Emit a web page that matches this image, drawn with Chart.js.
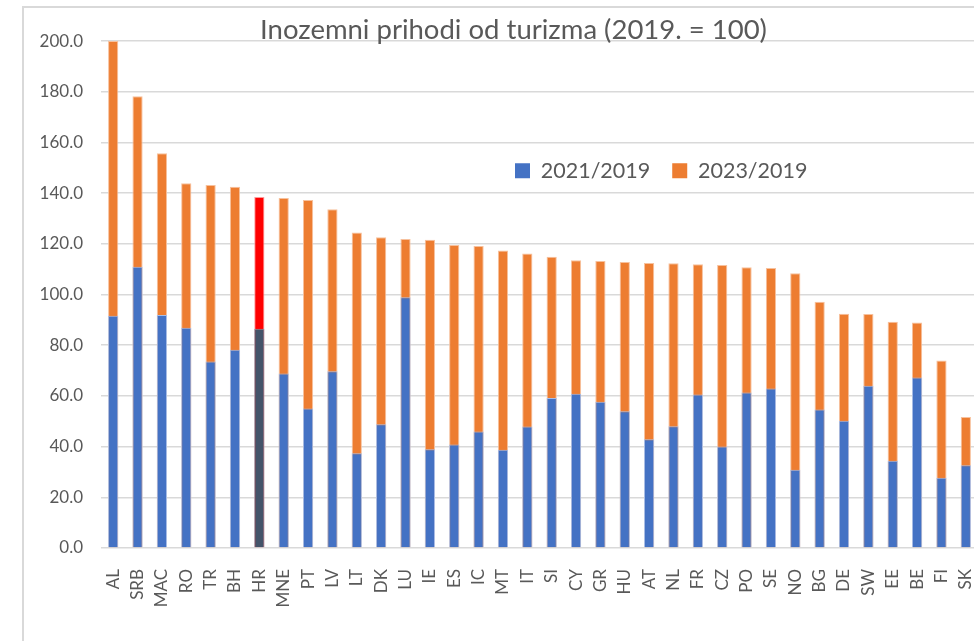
<!DOCTYPE html>
<html>
<head>
<meta charset="utf-8">
<script src="https://cdn.jsdelivr.net/npm/chart.js@4/dist/chart.umd.min.js"></script>
<style>
  html, body { margin: 0; padding: 0; background: #ffffff; overflow: hidden; width: 974px; height: 641px; }
  #frame { position: absolute; left: 22px; top: 6px; width: 1100px; height: 800px; border: 2px solid #d9d9d9; box-sizing: border-box; z-index: 0; }
  #c { position: absolute; left: 0; top: 0; z-index: 1; }
</style>
</head>
<body>
<div id="frame"></div>
<canvas id="c" width="1000" height="641"></canvas>
<script>
// ---- data ----
const categories = ["AL","SRB","MAC","RO","TR","BH","HR","MNE","PT","LV","LT","DK","LU","IE","ES","IC","MT","IT","SI","CY","GR","HU","AT","NL","FR","CZ","PO","SE","NO","BG","DE","SW","EE","BE","FI","SK"];
const values2021 = [91.6,111.0,91.9,86.9,73.6,78.2,86.5,68.8,55.0,69.7,37.4,48.8,98.9,39.0,40.8,46.0,38.8,47.9,59.2,60.9,57.7,53.9,42.9,48.0,60.6,40.0,61.3,62.9,30.9,54.6,50.2,64.0,34.4,67.3,27.7,32.6];
const values2023 = [200.0,178.2,155.7,143.9,143.2,142.5,138.5,138.1,137.3,133.6,124.5,122.6,121.9,121.6,119.5,119.1,117.4,116.2,114.9,113.5,113.2,112.8,112.4,112.3,111.9,111.6,110.8,110.5,108.4,97.1,92.4,92.3,89.3,89.0,74.0,51.7];
const seriesNames = ["2021/2019", "2023/2019"];
const yTicks = [0, 20, 40, 60, 80, 100, 120, 140, 160, 180, 200];
const chartTitle = "Inozemni prihodi od turizma (2019. = 100)";
const highlighted = "HR";

// ---- styling ----
const BLUE = "#4472C4", ORANGE = "#ED7D31", HL_BLUE = "#44546A", HL_ORANGE = "#FF0000";
const TEXT = "#595959", GRID = "#d9d9d9";
const FONT = "Lato, 'Open Sans', sans-serif";

const blueColors = categories.map(c => c === highlighted ? HL_BLUE : BLUE);
const orangeColors = categories.map(c => c === highlighted ? HL_ORANGE : ORANGE);
const blueBorders = categories.map(c => c === highlighted ? "#8a96a8" : "#a9bde6");
const orangeBorders = categories.map(c => c === highlighted ? "#ff9a9a" : "#f7c19d");

const LEGEND_BOX_X = 515, LEGEND_BOX_TOP = 163.3;
const TITLE_SHIFT = 9.5;

const layoutTweaks = {
  id: 'layoutTweaks',
  beforeLayout(chart) {
    const lg = chart.legend;
    if (lg && !lg._horizPatched) {
      lg.isHorizontal = () => true;
      lg._horizPatched = true;
    }
  },
  afterLayout(chart) {
    const lg = chart.legend;
    if (lg) {
      const pad = lg.options.labels.padding;
      const fontSize = lg.options.labels.font.size;
      const boxH = lg.options.labels.boxHeight;
      const targetTop = LEGEND_BOX_TOP - (fontSize - boxH) / 2 - pad;
      const targetLeft = LEGEND_BOX_X - pad;
      const w = lg.width, h = lg.height;
      lg.left = targetLeft; lg.right = targetLeft + w;
      lg.top = targetTop; lg.bottom = targetTop + h;
    }
    const tb = chart.titleBlock;
    if (tb) { tb.left += TITLE_SHIFT; tb.right += TITLE_SHIFT; }
  }
};

new Chart(document.getElementById('c'), {
  type: 'bar',
  data: {
    labels: categories,
    datasets: [
      { label: seriesNames[0], data: values2021, backgroundColor: blueColors, borderColor: blueBorders, borderWidth: 1, order: 0 },
      { label: seriesNames[1], data: values2023, backgroundColor: orangeColors, borderColor: orangeBorders, borderWidth: 1, order: 1 }
    ]
  },
  options: {
    responsive: false,
    animation: false,
    devicePixelRatio: 1,
    layout: { padding: { left: 30, right: 22, top: 0, bottom: 0 } },
    datasets: { bar: { barPercentage: 0.42, categoryPercentage: 1.0 } },
    plugins: {
      title: {
        display: true,
        text: chartTitle,
        color: TEXT,
        font: { family: FONT, size: 27.5, weight: 'normal', lineHeight: 0.75 },
        padding: { top: 20, bottom: 0.4 }
      },
      legend: {
        position: 'chartArea',
        align: 'start',
        labels: {
          color: TEXT,
          font: { family: FONT, size: 21.5 },
          boxWidth: 15,
          boxHeight: 15,
          padding: 22,
          generateLabels(chart) {
            return chart.data.datasets.map((ds, i) => ({
              text: ds.label,
              fillStyle: i === 0 ? BLUE : ORANGE,
              strokeStyle: i === 0 ? BLUE : ORANGE,
              lineWidth: 0,
              fontColor: TEXT,
              hidden: false,
              datasetIndex: i
            }));
          }
        }
      },
      tooltip: { enabled: false }
    },
    scales: {
      x: {
        stacked: true,
        grid: { display: false },
        border: { display: false },
        ticks: {
          color: TEXT,
          font: { family: FONT, size: 17 },
          maxRotation: 90,
          minRotation: 90,
          padding: 13,
          autoSkip: false
        },
        afterFit(s) { s.height = 93; }
      },
      y: {
        stacked: false,
        min: 0,
        max: 200,
        afterBuildTicks(s) { s.ticks = yTicks.map(v => ({ value: v })); },
        grid: { color: GRID, lineWidth: 1.5, drawTicks: false },
        border: { display: false },
        ticks: {
          color: TEXT,
          font: { family: FONT, size: 17 },
          padding: 18,
          callback: v => Number(v).toFixed(1)
        },
        afterFit(s) { s.width = 71; }
      }
    }
  },
  plugins: [layoutTweaks]
});
</script>
</body>
</html>
